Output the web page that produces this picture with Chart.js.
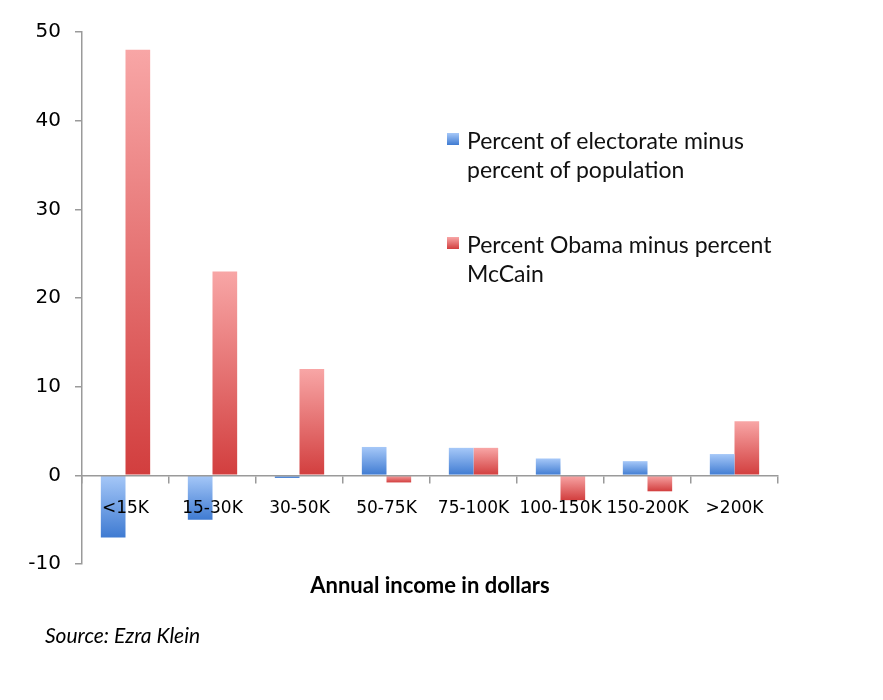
<!DOCTYPE html>
<html><head><meta charset="utf-8">
<script src="https://cdn.jsdelivr.net/npm/chart.js@4.4.0/dist/chart.umd.min.js"></script>
<style>
html,body{margin:0;padding:0;background:#fff;}
#wrap{position:relative;width:883px;height:700px;}
#legend{position:absolute;left:447px;top:126px;font-family:Lato, sans-serif;font-size:23px;color:#111;width:420px;}
.item{position:relative;padding-left:20px;line-height:29px;margin-bottom:46px;white-space:nowrap;}
.sw{position:absolute;left:0;top:7px;width:12px;height:12px;}
</style></head>
<body>
<div id="wrap"><canvas id="c" width="883" height="700"></canvas><div id="legend"></div></div>
<script>
const categories = ['<15K','15-30K','30-50K','50-75K','75-100K','100-150K','150-200K','>200K'];
const electorateMinusPopulation = [-7, -5, -0.3, 3.2, 3.1, 1.9, 1.6, 2.4];
const obamaMinusMcCain = [48, 23, 12, -0.8, 3.1, -2.8, -1.8, 6.1];
const seriesNames = ['Percent of electorate minus percent of population', 'Percent Obama minus percent McCain'];
const yTicks = [-10, 0, 10, 20, 30, 40, 50];
const xTitle = 'Annual income in dollars';
const sourceText = 'Source: Ezra Klein';

const blueLight = '#a6c8f8', blueDark = '#3f7bd2';
const redLight = '#f8a6a6', redDark = '#d23e3e';

function barGradient(light, dark){
  return (c) => {
    const chart = c.chart; const {ctx, chartArea, scales} = chart;
    if (!chartArea || c.type !== 'data' || !c.parsed) return dark;
    const v = c.parsed.y;
    const y0 = scales.y.getPixelForValue(0), y1 = scales.y.getPixelForValue(v);
    const top = Math.min(y0, y1), bot = Math.max(y0, y1);
    if (bot - top < 1) return dark;
    const g = ctx.createLinearGradient(0, top, 0, bot);
    g.addColorStop(0, light); g.addColorStop(1, dark);
    return g;
  };
}

const annotationText = {
  id: 'annotationText',
  afterDraw(chart){
    const {ctx, chartArea} = chart;
    ctx.save();
    ctx.fillStyle = '#000';
    ctx.font = 'bold 22px Lato';
    ctx.textAlign = 'center'; ctx.textBaseline = 'middle';
    ctx.fillText(xTitle, (chartArea.left + chartArea.right) / 2, chartArea.bottom + 22);
    ctx.font = 'italic 21px Lato';
    ctx.textAlign = 'left';
    ctx.fillText(sourceText, 45, chartArea.bottom + 72);
    ctx.restore();
  }
};

const chart = new Chart(document.getElementById('c'), {
  type: 'bar',
  data: {
    labels: categories,
    datasets: [
      { label: seriesNames[0], data: electorateMinusPopulation, backgroundColor: barGradient(blueLight, blueDark), borderWidth: 0 },
      { label: seriesNames[1], data: obamaMinusMcCain, backgroundColor: barGradient(redLight, redDark), borderWidth: 0 }
    ]
  },
  options: {
    responsive: false,
    animation: false,
    layout: { padding: { left: 0, top: 32, right: 105, bottom: 136 } },
    datasets: { bar: { categoryPercentage: 0.567, barPercentage: 1 } },
    plugins: { legend: { display: false }, tooltip: { enabled: false } },
    scales: {
      x: {
        position: { y: 0 },
        offset: true,
        grid: { offset: true, drawOnChartArea: false, drawTicks: true, tickLength: 7, color: '#9a9a9a', lineWidth: 1.5 },
        border: { color: '#9a9a9a', width: 1.5, z: 1 },
        ticks: { font: { family: 'DejaVu Sans', size: 17 }, color: '#000', padding: 16, maxRotation: 0, autoSkip: false, z: 2 }
      },
      y: {
        min: -10, max: 50,
        afterBuildTicks: s => { s.ticks = yTicks.map(v => ({ value: v })); },
        afterFit: s => { s.width = 82; },
        grid: { drawOnChartArea: false, tickLength: 7, color: '#9a9a9a', lineWidth: 1.5 },
        border: { color: '#9a9a9a', width: 1.5 },
        ticks: { font: { family: 'DejaVu Sans', size: 20 }, color: '#000', padding: 14 }
      }
    }
  },
  plugins: [annotationText]
});

const legend = document.getElementById('legend');
const swatches = [[blueLight, blueDark], [redLight, redDark]];
chart.data.datasets.forEach((ds, i) => {
  const item = document.createElement('div'); item.className = 'item';
  const sw = document.createElement('span'); sw.className = 'sw';
  sw.style.background = 'linear-gradient(' + swatches[i][0] + ',' + swatches[i][1] + ')';
  item.appendChild(sw);
  const words = ds.label.split(' ');
  const cut = 4;
  item.appendChild(document.createTextNode(words.slice(0, cut).join(' ')));
  item.appendChild(document.createElement('br'));
  item.appendChild(document.createTextNode(words.slice(cut).join(' ')));
  legend.appendChild(item);
});
</script>
</body></html>
